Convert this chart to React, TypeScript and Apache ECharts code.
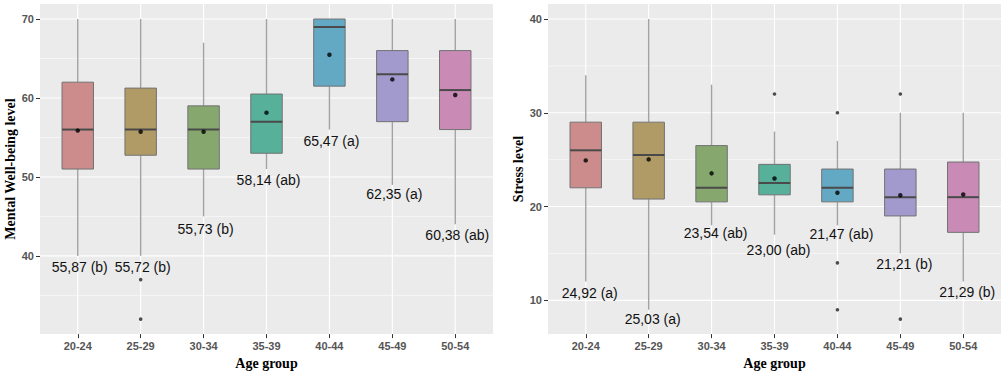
import React, { useEffect, useRef } from "react";
import * as echarts from "echarts";

const categories = ["20-24", "25-29", "30-34", "35-39", "40-44", "45-49", "50-54"];
const boxColors = ["#CC8C8B", "#B09B66", "#86A86F", "#56B09A", "#64A9C3", "#A29ACC", "#C98BB5"];

// [low whisker, Q1, median, Q3, high whisker]
const wellBox = [
  [40, 51, 56, 62, 70],
  [40, 52.75, 56, 61.25, 70],
  [45, 51, 56, 59, 67],
  [51, 53, 57, 60.5, 70],
  [56, 61.5, 69, 70, 70],
  [49, 57, 63, 66, 70],
  [44, 56, 61, 66, 70],
];
const wellMeans = [55.87, 55.72, 55.73, 58.14, 65.47, 62.35, 60.38];
const wellOutliers = [[1, 37], [1, 32]];
const wellLabels = ["55,87 (b)", "55,72 (b)", "55,73 (b)", "58,14 (ab)", "65,47 (a)", "62,35 (a)", "60,38 (ab)"];
const wellLabelY = [38.6, 38.6, 43.35, 49.6, 54.6, 47.8, 42.65];
const wellTicks = [40, 50, 60, 70];
const wellMinor = [35, 45, 55, 65];
const wellRange = [30.1, 71.9];

const stressBox = [
  [12, 22, 26, 29, 34],
  [9, 20.8, 25.5, 29, 40],
  [18, 20.5, 22, 26.5, 33],
  [17, 21.25, 22.5, 24.5, 28],
  [18, 20.5, 22, 24, 27],
  [15, 19, 21, 24, 30],
  [12, 17.25, 21, 24.75, 30],
];
const stressMeans = [24.92, 25.03, 23.54, 23.0, 21.47, 21.21, 21.29];
const stressOutliers = [[3, 32], [4, 30], [4, 14], [4, 9], [5, 32], [5, 8]];
const stressLabels = ["24,92 (a)", "25,03 (a)", "23,54 (ab)", "23,00 (ab)", "21,47 (ab)", "21,21 (b)", "21,29 (b)"];
const stressLabelY = [10.73, 8.0, 17.19, 15.36, 17.05, 13.84, 10.91];
const stressTicks = [10, 20, 30, 40];
const stressMinor = [15, 25, 35];
const stressRange = [6.4, 41.6];

const catIdx = categories.map((_, i) => i);

function panel(
  gi: number,
  cfg: {
    box: number[][];
    means: number[];
    outliers: number[][];
    labels: string[];
    labelY: number[];
    ticks: number[];
    minor: number[];
    range: number[];
    title: string;
    labelDx: number;
  }
) {
  const xAxis = {
    type: "value",
    gridIndex: gi,
    min: -0.6,
    max: 6.6,
    position: "bottom",
    axisLine: { show: false, onZero: false },
    splitLine: { show: false },
    axisTick: { show: true, length: 4, customValues: catIdx, lineStyle: { color: "#333", width: 1 } },
    axisLabel: {
      customValues: catIdx,
      formatter: (v: number) => categories[Math.round(v)] ?? "",
      margin: 6,
      color: "#555",
      fontWeight: "bold",
      fontSize: 11,
      fontFamily: "Liberation Sans",
    },
    name: "Age group",
    nameLocation: "middle",
    nameGap: 19,
    nameTextStyle: { fontFamily: "Liberation Serif", fontWeight: "bold", fontSize: 14, color: "#000" },
  };
  const yAxis = {
    type: "value",
    gridIndex: gi,
    min: cfg.range[0],
    max: cfg.range[1],
    position: "left",
    axisLine: { show: false, onZero: false },
    splitLine: { show: false },
    axisTick: { show: true, length: 4, customValues: cfg.ticks, lineStyle: { color: "#333", width: 1 } },
    axisLabel: {
      customValues: cfg.ticks,
      margin: 6,
      color: "#555",
      fontWeight: "bold",
      fontSize: 11,
      fontFamily: "Liberation Sans",
    },
    name: cfg.title,
    nameLocation: "middle",
    nameRotate: 90,
    nameGap: 23,
    nameTextStyle: { fontFamily: "Liberation Serif", fontWeight: "bold", fontSize: 14, color: "#000" },
  };

  const gridData = [
    ...cfg.ticks.map((v) => [0, v, 0]),
    ...cfg.minor.map((v) => [0, v, 1]),
    ...catIdx.map((i) => [i, cfg.range[0], 2]),
  ];

  const series: any[] = [
    {
      type: "custom",
      xAxisIndex: gi,
      yAxisIndex: gi,
      z: 1,
      silent: true,
      data: gridData,
      renderItem: (params: any, api: any) => {
        const cs = params.coordSys;
        const kind = api.value(2);
        if (kind === 2) {
          const x = api.coord([api.value(0), cfg.range[0]])[0];
          return {
            type: "line",
            shape: { x1: x, y1: cs.y, x2: x, y2: cs.y + cs.height },
            style: { stroke: "#FFFFFF", lineWidth: 1.1 },
          };
        }
        const y = api.coord([0, api.value(1)])[1];
        return {
          type: "line",
          shape: { x1: cs.x, y1: y, x2: cs.x + cs.width, y2: y },
          style: { stroke: "#FFFFFF", lineWidth: kind === 0 ? 1.1 : 0.55 },
        };
      },
    },
    {
      type: "custom",
      xAxisIndex: gi,
      yAxisIndex: gi,
      z: 2,
      data: cfg.box.map((b, i) => [i, ...b]),
      encode: { x: 0, y: [1, 2, 3, 4, 5] },
      renderItem: (params: any, api: any) => {
        const i = api.value(0);
        const pLow = api.coord([i, api.value(1)]);
        const pQ1 = api.coord([i, api.value(2)]);
        const pMed = api.coord([i, api.value(3)]);
        const pQ3 = api.coord([i, api.value(4)]);
        const pHigh = api.coord([i, api.value(5)]);
        const hw = api.size([0.5, 0])[0] / 2;
        const x = pMed[0];
        const wStyle = { stroke: "#A0A3A6", lineWidth: 1.4 };
        return {
          type: "group",
          children: [
            { type: "line", shape: { x1: x, y1: pQ3[1], x2: x, y2: pHigh[1] }, style: wStyle },
            { type: "line", shape: { x1: x, y1: pQ1[1], x2: x, y2: pLow[1] }, style: wStyle },
            {
              type: "rect",
              shape: { x: x - hw, y: pQ3[1], width: hw * 2, height: pQ1[1] - pQ3[1] },
              style: { fill: boxColors[params.dataIndex], stroke: "#727272", lineWidth: 1 },
            },
            {
              type: "line",
              shape: { x1: x - hw, y1: pMed[1], x2: x + hw, y2: pMed[1] },
              style: { stroke: "#4A4A4A", lineWidth: 2 },
            },
          ],
        };
      },
    },
    {
      type: "scatter",
      xAxisIndex: gi,
      yAxisIndex: gi,
      z: 3,
      symbol: "circle",
      symbolSize: 4.5,
      itemStyle: { color: "#000" },
      data: cfg.means.map((m, i) => [i, m]),
    },
    {
      type: "scatter",
      xAxisIndex: gi,
      yAxisIndex: gi,
      z: 3,
      symbol: "circle",
      symbolSize: 3.6,
      itemStyle: { color: "#222" },
      data: cfg.outliers,
    },
    {
      type: "custom",
      xAxisIndex: gi,
      yAxisIndex: gi,
      z: 4,
      data: cfg.labelY.map((y, i) => [i, y]),
      renderItem: (params: any, api: any) => {
        const p = api.coord([api.value(0), api.value(1)]);
        return {
          type: "text",
          x: p[0] + cfg.labelDx,
          y: p[1],
          style: {
            text: cfg.labels[params.dataIndex],
            fill: "#111",
            fontSize: 14,
            fontFamily: "Liberation Sans",
            align: "center",
            verticalAlign: "middle",
          },
        };
      },
    },
  ];
  return { xAxis, yAxis, series };
}

export default function App() {
  const ref = useRef<HTMLDivElement>(null);
  useEffect(() => {
    if (!ref.current) return;
    const chart = echarts.init(ref.current, undefined, { renderer: "svg" });
    const a = panel(0, {
      box: wellBox,
      means: wellMeans,
      outliers: wellOutliers,
      labels: wellLabels,
      labelY: wellLabelY,
      ticks: wellTicks,
      minor: wellMinor,
      range: wellRange,
      title: "Mental Well-being level",
      labelDx: 2,
    });
    const b = panel(1, {
      box: stressBox,
      means: stressMeans,
      outliers: stressOutliers,
      labels: stressLabels,
      labelY: stressLabelY,
      ticks: stressTicks,
      minor: stressMinor,
      range: stressRange,
      title: "Stress level",
      labelDx: 4,
    });
    chart.setOption({
      animation: false,
      backgroundColor: "#FFFFFF",
      grid: [
        { left: 40, top: 4, width: 453, height: 333, show: true, backgroundColor: "#EBEBEB", borderWidth: 0 },
        { left: 548, top: 4, width: 453, height: 333, show: true, backgroundColor: "#EBEBEB", borderWidth: 0 },
      ],
      xAxis: [a.xAxis, b.xAxis],
      yAxis: [a.yAxis, b.yAxis],
      series: [...a.series, ...b.series],
    });
    return () => chart.dispose();
  }, []);
  return (
    <div
      ref={ref}
      style={{ position: "fixed", left: 0, top: 0, width: 1005, height: 375, background: "#fff" }}
    />
  );
}
